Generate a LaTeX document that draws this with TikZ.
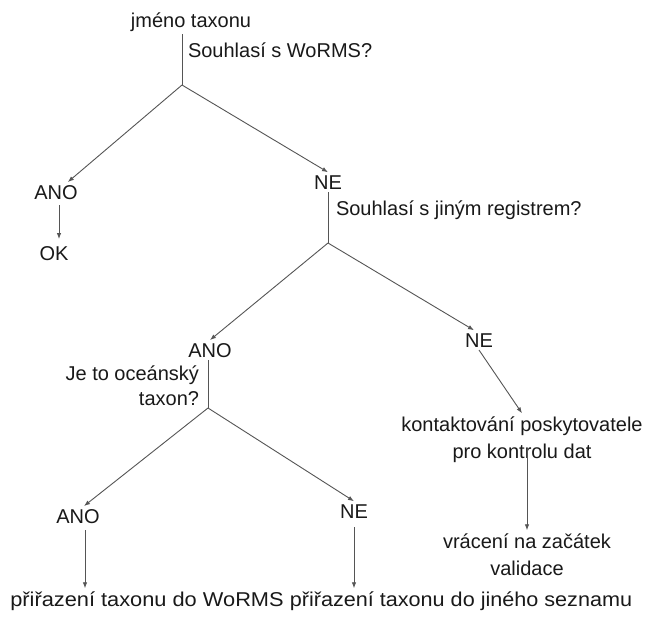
\documentclass[tikz,border=0pt]{standalone}
\usepackage{fontspec}
\setmainfont{Liberation Sans}
\usetikzlibrary{arrows.meta}
\definecolor{txt}{RGB}{25,25,25}
\definecolor{ln}{RGB}{85,85,85}
\begin{document}
\begin{tikzpicture}[x=1pt,y=-1pt,
  lbl/.style={inner sep=0pt,outer sep=3pt,text=txt,font=\fontsize{20}{27}\selectfont},
  conn/.style={draw=ln,line width=0.9pt},
  arr/.style={conn,-{Latex[length=6pt,width=4.5pt]}}]
\useasboundingbox[fill=white] (0,0) rectangle (646,619);
% nodes
\node[lbl,anchor=base] (title) at (191,27) {jméno taxonu};
\node[lbl,anchor=base west] (q1) at (185,57) {Souhlasí s WoRMS?};
\coordinate (b1) at (182,85);
\node[lbl,anchor=base] (ano1) at (56,199) {ANO};
\node[lbl,anchor=base] (ok) at (54,260) {OK};
\node[lbl,anchor=base] (ne1) at (328,189) {NE};
\node[lbl,anchor=base west] (q2) at (333,215) {Souhlasí s jiným registrem?};
\coordinate (b2) at (328,243);
\node[lbl,anchor=base] (ano2) at (210,357) {ANO};
\node[lbl,anchor=base] (ne2) at (479,347) {NE};
\node[lbl,anchor=base east,align=right] (q3) at (202,405) {Je to oceánský\\[-2pt]taxon?};
\coordinate (b3) at (208,408);
\node[lbl,anchor=base] (ano3) at (78,523) {ANO};
\node[lbl,anchor=base] (ne3) at (354,518) {NE};
\node[lbl,anchor=base] (bl) at (147,606) {\scalebox{1.09}[1]{přiřazení taxonu do WoRMS}};
\node[lbl,anchor=base] (br) at (461,606) {\scalebox{1.08}[1]{přiřazení taxonu do jiného seznamu}};
\node[lbl,anchor=base,align=center] (kont) at (522,458) {kontaktování poskytovatele\\pro kontrolu dat};
\node[lbl,anchor=base,align=center] (vrac) at (527,575) {vrácení na začátek\\validace};
% connectors
\draw[conn] (title.south -| b1) -- (b1);
\draw[arr] (b1) -- (ano1);
\draw[arr] (b1) -- (ne1.north);
\draw[arr,shorten <=3pt,shorten >=4pt] (ano1.south -| 59,0) -- (ok.north -| 59,0);
\draw[conn] (ne1.south) -- (b2);
\draw[arr] (b2) -- (ano2.north);
\draw[arr] (b2) -- ([xshift=-5pt]ne2.north);
\draw[conn] (ano2.south -| b3) -- (b3);
\draw[arr] (b3) -- ([xshift=6pt]ano3.north);
\draw[arr] (b3) -- (ne3.north);
\draw[arr,shorten <=4pt] ([xshift=7pt]ano3.south) -- ([xshift=7pt]ano3.south |- bl.north);
\draw[arr,shorten <=6pt] (ne3.south) -- (ne3.south |- br.north);
\draw[arr] (ne2.south) -- (kont.north);
\draw[arr] ([yshift=-10pt]kont.center -| vrac.north) -- (vrac.north);
\end{tikzpicture}
\end{document}
